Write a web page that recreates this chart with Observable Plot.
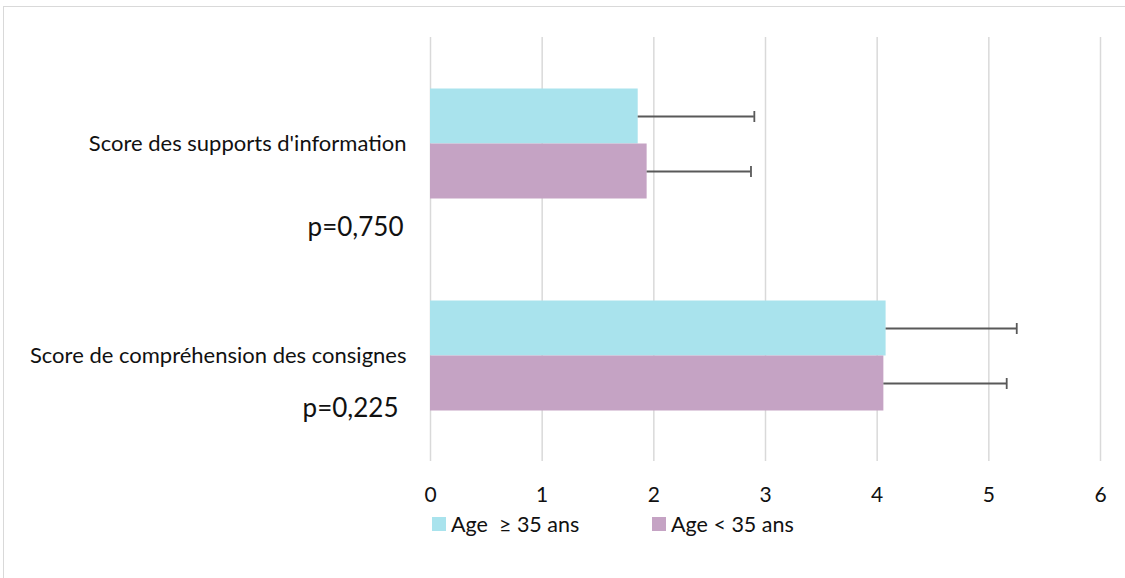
<!DOCTYPE html>
<html>
<head>
<meta charset="utf-8">
<script src="https://cdn.jsdelivr.net/npm/d3@7"></script>
<script src="https://cdn.jsdelivr.net/npm/@observablehq/plot@0.6"></script>
<style>
  html, body { margin: 0; padding: 0; background: #fff; }
  body { width: 1125px; height: 578px; overflow: hidden; position: relative; font-family: Lato, "Noto Sans", sans-serif; color: #111; }
  #frame { position: absolute; left: 3px; top: 6px; width: 1140px; height: 600px; border: 1.5px solid #d9d9d9; box-sizing: border-box; }
  #chart { position: absolute; left: 0; top: 0; }
  #legend { position: absolute; left: 432px; top: 511px; display: flex; align-items: center; font-size: 21.5px; white-space: pre; }
  .item { display: flex; align-items: center; width: 220px; }
  .sw { width: 14px; height: 14px; margin-right: 5px; }
</style>
</head>
<body>
<div id="frame"></div>
<div id="chart"></div>
<div id="legend"></div>
<script>
const categories = ["Score des supports d'information", "Score de compréhension des consignes"];
const groups = ["Age  ≥ 35 ans", "Age < 35 ans"];
const groupColors = ["#A9E3ED", "#C5A3C4"];
const meanOlder = [1.86, 4.08];
const meanYounger = [1.94, 4.06];
const sdOlder = [1.04, 1.17];
const sdYounger = [0.93, 1.10];
const pValues = ["p=0,750", "p=0,225"];
const xTicks = [0, 1, 2, 3, 4, 5, 6];

const rows = [];
categories.forEach((c, i) => {
  rows.push({category: c, group: groups[0], mean: meanOlder[i], sd: sdOlder[i]});
  rows.push({category: c, group: groups[1], mean: meanYounger[i], sd: sdYounger[i]});
});
const pRows = categories.map((c, i) => ({category: c, p: pValues[i]}));

// vertical cap symbol for error bars
const capSymbol = {
  draw(context, size) {
    context.moveTo(0, -5.5);
    context.lineTo(0, 5.5);
  }
};

const chart = Plot.plot({
  width: 1125,
  height: 505,
  marginLeft: 430,
  marginRight: 25,
  marginTop: 36.5,
  marginBottom: 44.5,
  style: {fontFamily: "Lato, 'Noto Sans', sans-serif", color: "#111", background: "transparent"},
  x: {domain: [0, 6], ticks: xTicks, axis: null},
  y: {domain: groups, paddingInner: 0, paddingOuter: 0.91, axis: null},
  fy: {domain: categories, padding: 0, axis: null},
  color: {domain: groups, range: groupColors},
  marks: [
    Plot.gridX(xTicks, {stroke: "#d9d9d9", strokeOpacity: 1, strokeWidth: 1.5}),
    Plot.barX(rows, {fy: "category", y: "group", x: "mean", fill: "group"}),
    Plot.ruleY(rows, {fy: "category", y: "group", x1: "mean", x2: d => d.mean + d.sd, stroke: "#595959", strokeWidth: 1.8}),
    Plot.dot(rows, {fy: "category", y: "group", x: d => d.mean + d.sd, symbol: capSymbol, stroke: "#595959", strokeWidth: 1.8, fill: "none", r: 5}),
    Plot.axisFy({anchor: "left", tickSize: 0, tickPadding: 24, fontSize: 22, label: null}),
    Plot.text(pRows.slice(0, 1), {fy: "category", text: "p", frameAnchor: "left", textAnchor: "end", dx: -27, dy: 84.5, fontSize: 26}),
    Plot.text(pRows.slice(1), {fy: "category", text: "p", frameAnchor: "left", textAnchor: "end", dx: -32, dy: 53.5, fontSize: 26}),
    Plot.axisX({ticks: xTicks, tickSize: 0, tickPadding: 26, fontSize: 21, label: null, tickFormat: d => String(d)})
  ]
});
document.getElementById("chart").appendChild(chart);

const legend = document.getElementById("legend");
groups.forEach((g, i) => {
  const it = document.createElement("div");
  it.className = "item";
  const sw = document.createElement("div");
  sw.className = "sw";
  sw.style.background = groupColors[i];
  const t = document.createElement("span");
  t.textContent = g;
  it.appendChild(sw);
  it.appendChild(t);
  legend.appendChild(it);
});
</script>
</body>
</html>
